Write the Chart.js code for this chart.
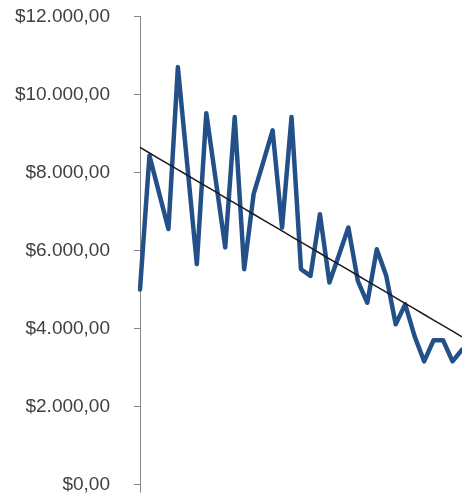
<!DOCTYPE html>
<html>
<head>
<meta charset="utf-8">
<script src="https://cdn.jsdelivr.net/npm/chart.js@4"></script>
<style>
    html, body { margin: 0; padding: 0; background: #fff; overflow: hidden; }
    #wrap { width: 462px; height: 493px; overflow: hidden; position: relative; }
    #salesChart { position: absolute; left: 0; top: -19px; }
</style>
</head>
<body>
<div id="wrap"><canvas id="salesChart" width="462" height="539"></canvas></div>
<script>
// Periods (no labels shown on the x axis)
const periods = ['1','2','3','4','5','6','7','8','9','10','11','12','13','14','15','16','17','18',
    '19','20','21','22','23','24','25','26','27','28','29','30','31','32','33','34','35'];

// Values
const amounts = [5000, 8430, 7490, 6550, 10700, 8170, 5650, 9520, 7800, 6080, 9420, 5520,
    7450, 8250, 9080, 6590, 9420, 5520, 5350, 6930, 5180, 5880, 6590, 5220, 4660, 6030,
    5350, 4110, 4620, 3800, 3160, 3700, 3700, 3160, 3460];

const yTicks = [0, 2000, 4000, 6000, 8000, 10000, 12000];

// Linear trendline (least squares) over the series
function linearTrend(values) {
    const n = values.length;
    let sx = 0, sy = 0, sxy = 0, sxx = 0;
    values.forEach((v, i) => {
        sx += i; sy += v; sxy += i * v; sxx += i * i;
    });
    const slope = (n * sxy - sx * sy) / (n * sxx - sx * sx);
    const intercept = (sy - slope * sx) / n;
    return values.map((v, i) => intercept + slope * i);
}

// $12.000,00 style
function formatMoney(value) {
    const whole = Math.round(value).toString().replace(/\B(?=(\d{3})+(?!\d))/g, '.');
    return '$' + whole + ',00';
}

// Stretch the value axis line down past the zero tick like the original
const axisTail = {
    id: 'axisTail',
    afterDraw(chart) {
        const ctx = chart.ctx;
        const x = chart.chartArea.left;
        ctx.save();
        ctx.strokeStyle = '#868686';
        ctx.lineWidth = 1;
        ctx.beginPath();
        ctx.moveTo(x + 0.5, chart.chartArea.bottom);
        ctx.lineTo(x + 0.5, chart.chartArea.bottom + 8);
        ctx.stroke();
        ctx.restore();
    }
};

const ctx = document.getElementById('salesChart');

new Chart(ctx, {
    type: 'line',
    data: {
        labels: periods,
        datasets: [{
            label: 'Trend',
            data: linearTrend(amounts),
            borderColor: '#1a1a1a',
            borderWidth: 1.5,
            pointRadius: 0,
            order: 0
        }, {
            label: 'Amount',
            data: amounts,
            borderColor: '#24508a',
            borderWidth: 4.5,
            borderJoinStyle: 'round',
            borderCapStyle: 'round',
            pointRadius: 0,
            tension: 0,
            order: 1
        }]
    },
    options: {
        responsive: false,
        animation: false,
        layout: {
            padding: 0
        },
        scales: {
            x: {
                display: false,
                offset: false
            },
            y: {
                min: 0,
                max: 12000,
                afterBuildTicks: (scale) => {
                    scale.ticks = yTicks.map(v => ({ value: v }));
                },
                afterFit: (scale) => {
                    scale.width = 140;
                },
                border: {
                    display: true,
                    color: '#868686'
                },
                grid: {
                    drawOnChartArea: false,
                    tickLength: 6,
                    color: '#868686'
                },
                ticks: {
                    padding: 24,
                    color: '#404040',
                    font: { family: 'Liberation Sans, Arial, sans-serif', size: 19 },
                    callback: (value) => formatMoney(value)
                }
            }
        },
        plugins: {
            legend: { display: false },
            tooltip: { enabled: false }
        }
    },
    plugins: [axisTail]
});
</script>
</body>
</html>
